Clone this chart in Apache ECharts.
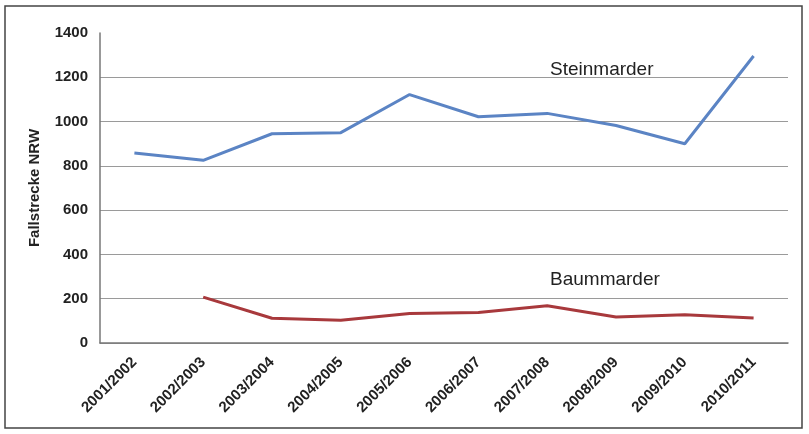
<!DOCTYPE html>
<html>
<head>
<meta charset="utf-8">
<script src="https://cdn.jsdelivr.net/npm/echarts@6/dist/echarts.min.js"></script>
<style>
  html, body { margin: 0; padding: 0; background: #fff; }
  #chart { width: 809px; height: 434px; }
</style>
</head>
<body>
<div id="chart"></div>
<script>
// Fallstrecke NRW, Jagdjahre
const seasons = ['2001/2002', '2002/2003', '2003/2004', '2004/2005', '2005/2006',
                 '2006/2007', '2007/2008', '2008/2009', '2009/2010', '2010/2011']
const steinmarder = [858, 825, 945, 950, 1122, 1022, 1037, 982, 900, 1296]
const baummarder = [null, 207, 112, 103, 133, 138, 168, 117, 128, 113]

const chart = echarts.init(document.getElementById('chart'))

const option = {
    animation: false,
    backgroundColor: '#fff',
    grid: {
        left: 100,
        right: 21,
        top: 33,
        bottom: 91
    },
    xAxis: {
        type: 'category',
        data: seasons,
        boundaryGap: true,
        axisLine: { lineStyle: { color: '#777', width: 1.5 } },
        axisTick: { show: false },
        axisLabel: {
            rotate: 45,
            interval: 0,
            margin: 17,
            color: '#222',
            fontFamily: 'Liberation Sans',
            fontWeight: 'bold',
            fontSize: 15
        }
    },
    yAxis: {
        type: 'value',
        min: 0,
        max: 1400,
        interval: 200,
        name: 'Fallstrecke NRW',
        nameLocation: 'middle',
        nameGap: 58,
        nameTextStyle: {
            color: '#222',
            fontFamily: 'Liberation Sans',
            fontWeight: 'bold',
            fontSize: 15
        },
        axisLine: { show: true, lineStyle: { color: '#777', width: 1.5 } },
        axisTick: { show: false },
        axisLabel: {
            margin: 12,
            color: '#222',
            fontFamily: 'Liberation Sans',
            fontWeight: 'bold',
            fontSize: 15,
            formatter: (v) => String(v)
        },
        splitLine: {
            show: true,
            lineStyle: { color: '#9a9a9a', width: 1.2 },
            showMaxLine: false
        }
    },
    series: [
        {
            name: 'Steinmarder',
            type: 'line',
            data: steinmarder,
            symbol: 'none',
            lineStyle: { color: '#5b84c4', width: 3 }
        },
        {
            name: 'Baummarder',
            type: 'line',
            data: baummarder,
            symbol: 'none',
            lineStyle: { color: '#a8393c', width: 3 }
        }
    ],
    graphic: [
        {
            type: 'rect',
            shape: { x: 5, y: 6, width: 797, height: 422 },
            style: { fill: 'none', stroke: '#444', lineWidth: 1.5 },
            silent: true
        },
        {
            type: 'text',
            left: 550,
            top: 60,
            style: {
                text: 'Steinmarder',
                fill: '#222',
                font: '19px "Liberation Sans"'
            }
        },
        {
            type: 'text',
            left: 550,
            top: 270,
            style: {
                text: 'Baummarder',
                fill: '#222',
                font: '19px "Liberation Sans"'
            }
        }
    ]
}

chart.setOption(option)
</script>
</body>
</html>
